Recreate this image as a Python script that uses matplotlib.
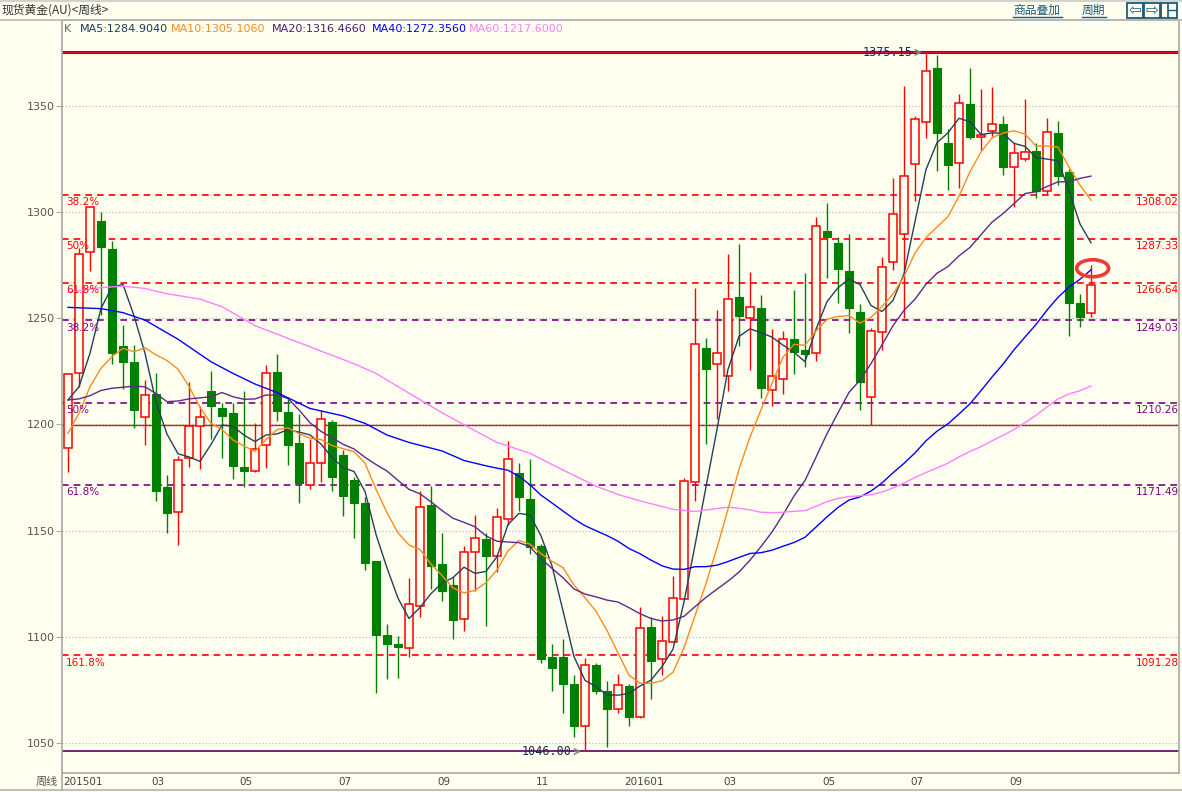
import numpy as np
import pandas as pd
import matplotlib
matplotlib.use("Agg")
import matplotlib.pyplot as plt
from matplotlib.patches import Ellipse, Rectangle
from matplotlib.lines import Line2D

# ---------------- data (weekly spot gold, 2015-01 .. 2016-10) ----------------
opens = [1188.7, 1224.1, 1281.0, 1295.8, 1282.6, 1236.9, 1229.4, 1203.3, 1214.3, 1170.7,
         1158.9, 1184.0, 1199.2, 1215.7, 1207.6, 1205.2, 1179.8, 1178.2, 1190.2, 1224.5,
         1205.8, 1191.1, 1171.3, 1181.7, 1201.1, 1185.4, 1173.8, 1162.9, 1135.7, 1100.8,
         1096.6, 1094.6, 1114.6, 1162.0, 1134.3, 1124.4, 1108.2, 1140.1, 1146.0, 1138.2,
         1155.4, 1177.3, 1164.9, 1142.7, 1090.5, 1090.5, 1077.8, 1058.1, 1086.7, 1074.5,
         1066.1, 1076.8, 1062.3, 1104.5, 1089.7, 1097.7, 1117.6, 1172.8, 1235.8, 1228.5,
         1222.9, 1259.9, 1249.9, 1254.6, 1216.2, 1221.3, 1240.3, 1235.1, 1233.5, 1291.0,
         1285.3, 1272.2, 1252.8, 1213.0, 1243.4, 1276.3, 1289.5, 1322.4, 1342.5, 1367.9,
         1332.3, 1323.2, 1350.8, 1335.4, 1338.3, 1341.3, 1321.2, 1324.8, 1328.7, 1310.0,
         1337.0, 1318.7, 1257.0, 1252.6]
highs = [1224.3, 1282.9, 1303.0, 1300.1, 1286.3, 1246.8, 1237.4, 1220.9, 1224.3, 1176.2,
         1185.0, 1220.1, 1208.7, 1225.1, 1210.2, 1210.2, 1215.7, 1200.5, 1228.0, 1233.1,
         1213.0, 1204.9, 1193.1, 1206.8, 1202.1, 1187.9, 1175.4, 1166.0, 1135.7, 1106.0,
         1100.5, 1127.5, 1168.8, 1171.0, 1148.7, 1128.3, 1142.7, 1157.3, 1148.7, 1160.5,
         1192.2, 1182.0, 1183.6, 1143.5, 1096.6, 1099.0, 1082.0, 1089.9, 1087.5, 1079.3,
         1082.3, 1077.8, 1113.8, 1109.1, 1109.8, 1128.6, 1174.9, 1264.1, 1240.5, 1254.0,
         1280.1, 1284.9, 1271.7, 1260.8, 1244.7, 1243.8, 1263.2, 1271.1, 1297.8, 1304.4,
         1288.1, 1289.6, 1256.7, 1245.2, 1279.0, 1315.8, 1359.3, 1345.2, 1375.15, 1374.0,
         1339.1, 1355.5, 1367.9, 1357.8, 1358.7, 1345.2, 1332.3, 1353.2, 1332.3, 1344.1,
         1343.0, 1320.1, 1261.2, 1275.0]
lows = [1177.7, 1217.7, 1272.4, 1251.5, 1228.3, 1216.5, 1198.2, 1190.3, 1164.1, 1149.0,
        1143.0, 1179.8, 1178.9, 1193.0, 1184.0, 1174.3, 1170.4, 1177.7, 1179.3, 1201.7,
        1180.9, 1162.9, 1169.4, 1173.0, 1168.8, 1156.9, 1146.7, 1131.5, 1073.7, 1080.1,
        1080.7, 1090.3, 1109.5, 1122.4, 1116.9, 1098.8, 1102.9, 1121.6, 1105.2, 1130.7,
        1152.6, 1159.2, 1139.0, 1087.5, 1074.6, 1064.3, 1053.0, 1046.0, 1073.0, 1048.0,
        1064.3, 1058.1, 1061.6, 1070.7, 1082.0, 1097.7, 1117.6, 1163.9, 1190.8, 1202.4,
        1215.9, 1236.9, 1225.7, 1212.4, 1208.6, 1214.2, 1223.8, 1226.9, 1230.0, 1268.8,
        1257.0, 1243.2, 1206.8, 1199.5, 1235.0, 1272.7, 1249.9, 1305.3, 1334.7, 1319.4,
        1310.3, 1311.4, 1334.4, 1329.2, 1335.8, 1317.4, 1302.5, 1324.2, 1306.4, 1308.5,
        1312.7, 1241.6, 1245.7, 1250.7]
closes = [1223.6, 1280.2, 1302.2, 1283.7, 1233.7, 1229.5, 1206.8, 1213.7, 1168.8, 1158.4,
          1183.2, 1199.2, 1203.3, 1208.7, 1204.0, 1180.4, 1178.2, 1188.3, 1224.1, 1206.5,
          1190.5, 1172.5, 1181.7, 1202.4, 1175.4, 1166.4, 1163.1, 1134.9, 1101.0, 1096.7,
          1095.1, 1115.3, 1161.0, 1133.5, 1121.6, 1107.9, 1139.8, 1146.4, 1138.2, 1156.3,
          1183.6, 1166.0, 1142.4, 1089.5, 1085.5, 1077.8, 1058.1, 1086.6, 1074.6, 1066.1,
          1077.1, 1062.1, 1104.2, 1088.5, 1097.9, 1118.1, 1173.3, 1237.7, 1226.0, 1233.4,
          1259.2, 1250.8, 1255.4, 1217.1, 1222.9, 1240.3, 1234.2, 1233.0, 1293.4, 1288.1,
          1273.0, 1254.6, 1220.1, 1244.1, 1274.0, 1299.0, 1316.9, 1343.6, 1366.4, 1337.3,
          1322.1, 1351.2, 1335.4, 1336.2, 1341.3, 1321.0, 1327.6, 1328.4, 1310.0, 1337.5,
          1316.9, 1257.0, 1250.4, 1265.5]

# moving averages at the left edge (windows reach back into 2014)
ma5_head = [1211.5, 1217.7, 1233.5, 1254.6]
ma10_head = [1195.8, 1205.2, 1217.7, 1226.4, 1231.9, 1235.8, 1234.2, 1236.1, 1232.7]
ma20_head = [1211.5, 1212.0, 1213.5, 1216.0, 1217.0, 1217.5, 1218.0, 1217.7, 1214.5, 1210.7,
             1211.0, 1212.0, 1212.5, 1213.0, 1215.0, 1213.0, 1211.8, 1212.0, 1213.8]
ma40_head_idx = [0, 3, 5, 7, 10, 13, 15, 17, 19, 22, 25, 27, 29, 31, 34, 36, 38]
ma40_head_val = [1255.1, 1254.5, 1252.6, 1249.1, 1240.1, 1229.5, 1224.0, 1219.0, 1215.0, 1207.5,
                 1204.0, 1200.5, 1195.0, 1191.5, 1187.5, 1183.0, 1180.5]
ma60_head_idx = [0, 3, 5, 7, 9, 12, 14, 17, 20, 23, 26, 28, 31, 34, 37, 39, 42, 45, 48, 50,
                 52, 55, 57]
ma60_head_val = [1262.2, 1264.4, 1265.1, 1264.0, 1261.5, 1259.0, 1255.4, 1246.5, 1240.5, 1234.5,
                 1228.6, 1224.0, 1214.7, 1205.5, 1197.0, 1191.5, 1186.4, 1178.5, 1170.9, 1167.0,
                 1164.0, 1160.0, 1159.0]

legend_items = ["MA5:1284.9040", "MA10:1305.1060", "MA20:1316.4660", "MA40:1272.3560", "MA60:1217.6000"]
ma_windows = [5, 10, 20, 40, 60]
ma_colors = ["#24405A", "#FF8A1C", "#5B2A88", "#0000FF", "#FF80FF"]
legend_colors = ["#1E3A56", "#FF8A1C", "#4B1A7A", "#0000FF", "#FF80FF"]

y_ticks = [1050, 1100, 1150, 1200, 1250, 1300, 1350]
month_labels = ["201501", "03", "05", "07", "09", "11", "201601", "03", "05", "07", "09"]
month_label_idx = [0, 8, 16, 25, 34, 43, 51, 60, 69, 77, 86]

red_fib_levels = [1308.02, 1287.33, 1266.64, 1091.28]
red_fib_pcts = ["38.2%", "50%", "61.8%", "161.8%"]
red_fib_base = 1199.51
purple_fib_levels = [1249.03, 1210.26, 1171.49]
purple_fib_pcts = ["38.2%", "50%", "61.8%"]

# ---------------- figure ----------------
W, H = 1182, 792
BG = "#FFFFF0"
fig = plt.figure(figsize=(W / 100, H / 100), dpi=100, facecolor=BG)

def fx(px):
    return px / W

def fy(py):
    return 1 - py / H

AX_L, AX_R, AX_T, AX_B = 62, 1179, 20, 773
ax = fig.add_axes([fx(AX_L), fy(AX_B), fx(AX_R) - fx(AX_L), fy(AX_T) - fy(AX_B)])
ax.set_facecolor(BG)

n = len(closes)
x = np.arange(n)
# pixel scale: candle i at x = 68 + 11 i ; price p at y = (1399.8 - p)/0.4708
x_left = (AX_L - 68) / 11.0
x_right = (AX_R - 68) / 11.0
ax.set_xlim(x_left, x_right)
ax.set_ylim(1399.8 - 0.4708 * AX_B, 1399.8 - 0.4708 * AX_T)

for s in ax.spines.values():
    s.set_color("#A8A8A8")
    s.set_linewidth(1.2)

ax.set_yticks(y_ticks)
ax.set_yticklabels([str(v) for v in y_ticks], fontsize=8, color="#555555")
ax.tick_params(axis="y", length=4, color="#A8A8A8", pad=1)
ax.set_xticks([])
ax.grid(False)
for v in y_ticks:
    ax.axhline(v, color="#B4B4B4", lw=0.8, ls=(0, (1, 2)), zorder=0.5)

# fib lines
for lv, pc in zip(red_fib_levels, red_fib_pcts):
    ax.axhline(lv, color="#FF0000", lw=1.2, ls=(0, (4, 3)), zorder=1)
    ax.text(x_left + 0.35, lv - 1.2, pc, color="#FF0000", fontsize=7.5, va="top", ha="left", zorder=5)
    ax.text(x_right - 0.05, lv - 1.2, f"{lv:.2f}", color="#FF0000", fontsize=7.5, va="top", ha="right", zorder=5)
for lv, pc in zip(purple_fib_levels, purple_fib_pcts):
    ax.axhline(lv, color="#800080", lw=1.2, ls=(0, (4, 3)), zorder=1)
    ax.text(x_left + 0.35, lv - 1.2, pc, color="#800080", fontsize=7.5, va="top", ha="left", zorder=5)
    ax.text(x_right - 0.05, lv - 1.2, f"{lv:.2f}", color="#800080", fontsize=7.5, va="top", ha="right", zorder=5)
ax.axhline(red_fib_base, color="#B82828", lw=1.0, zorder=1)

hmax = max(highs)
imax = highs.index(hmax)
lmin = min(lows)
imin = lows.index(lmin)
ax.axhline(hmax, color="#800050", lw=2.2, zorder=1.2)
ax.axhline(hmax + 0.3, color="#E0103A", lw=0.9, zorder=1.3)
ax.axhline(lmin, color="#5A005A", lw=1.2, zorder=1.2)

# candles
o = np.array(opens); c = np.array(closes); h = np.array(highs); l = np.array(lows)
up = c >= o
wick_col = np.where(up, "#FF0000", "#008000")
ax.vlines(x, l, h, colors=wick_col, lw=1.0, zorder=2)
body_h = np.maximum(np.abs(c - o), 0.6)
body_b = np.minimum(o, c)
ax.bar(x[up], body_h[up], bottom=body_b[up], width=0.72, facecolor=BG,
       edgecolor="#FF0000", linewidth=1.1, zorder=3)
ax.bar(x[~up], body_h[~up], bottom=body_b[~up], width=0.72, facecolor="#008000",
       edgecolor="#008000", linewidth=0.8, zorder=3)

# moving averages
cs = pd.Series(closes)
heads = {5: (list(range(len(ma5_head))), ma5_head),
         10: (list(range(len(ma10_head))), ma10_head),
         20: (list(range(len(ma20_head))), ma20_head),
         40: (ma40_head_idx, ma40_head_val),
         60: (ma60_head_idx, ma60_head_val)}
for w, col in zip(ma_windows, ma_colors):
    roll = cs.rolling(w).mean()
    hi, hv = heads[w]
    xs = list(hi) + list(range(w - 1, n))
    ys = list(hv) + list(roll.iloc[w - 1:].values)
    ax.plot(xs, ys, color=col, lw=1.0, zorder=4)

# high / low annotations
mono = "DejaVu Sans Mono"
ax.annotate("", xy=(imax - 0.1, hmax), xytext=(imax - 1.2, hmax),
            arrowprops=dict(arrowstyle="->", color="#808080", lw=1), zorder=6)
ax.text(imax - 1.25, hmax, f"{hmax:.2f}", ha="right", va="center", fontsize=8.5,
        color="#1A2A50", family=mono, zorder=6)
ax.annotate("", xy=(imin - 0.1, lmin), xytext=(imin - 1.2, lmin),
            arrowprops=dict(arrowstyle="->", color="#808080", lw=1), zorder=6)
ax.text(imin - 1.25, lmin, f"{lmin:.2f}", ha="right", va="center", fontsize=8.5,
        color="#1A2A50", family=mono, zorder=6)

# red ring at the last candle
ax.add_patch(Ellipse((n - 1 + 0.15, highs[-1] - 1.5), 2.9, 8.0, fill=False,
                     edgecolor="#F03838", lw=2.6, zorder=7))

# ---------------- frame texts ----------------
cjk = ["Noto Sans CJK SC", "DejaVu Sans"]
fig.add_artist(Line2D([0, 1], [fy(20), fy(20)], color="#B8B8B8", lw=1.2))
fig.add_artist(Line2D([0, 1], [fy(1), fy(1)], color="#C8C8C8", lw=1.2))
fig.text(fx(2), fy(10), "现货黄金(AU)<周线>", family=cjk, fontsize=8.5, color="#333333",
         va="center", ha="left")
fig.text(fx(1013), fy(10), "商品叠加", family=cjk, fontsize=8.5, color="#1A5A7A",
         va="center", ha="left")
fig.text(fx(1082), fy(10), "周期", family=cjk, fontsize=8.5, color="#1A5A7A",
         va="center", ha="left")
fig.add_artist(Line2D([fx(1013), fx(1062)], [fy(17), fy(17)], color="#1A5A7A", lw=1))
fig.add_artist(Line2D([fx(1082), fx(1106)], [fy(17), fy(17)], color="#1A5A7A", lw=1))
for bx, sym in zip([1127, 1144, 1161], ["⇦", "⇨", ""]):
    fig.add_artist(Rectangle((fx(bx), fy(18)), 16 / W, 15 / H, fill=False,
                             edgecolor="#1A5A7A", lw=1.3))
    if sym:
        fig.text(fx(bx + 8), fy(10.5), sym, fontsize=11, color="#1A5A7A",
                 ha="center", va="center", family=["DejaVu Sans"])
fig.add_artist(Line2D([fx(1168), fx(1168)], [fy(4), fy(17)], color="#1A5A7A", lw=1.2))
fig.add_artist(Line2D([fx(1168), fx(1176)], [fy(10), fy(10)], color="#1A5A7A", lw=1))

# legend row
fig.text(fx(64), fy(29), "K", fontsize=8, color="#5A6A6A", va="center", ha="left")
leg_x = [80, 171, 272, 372, 469]
for lx, txt, col in zip(leg_x, legend_items, legend_colors):
    fig.text(fx(lx), fy(29), txt, fontsize=8, color=col, va="center", ha="left")

# bottom strip
fig.add_artist(Line2D([0, 1], [fy(790), fy(790)], color="#C0C0C0", lw=1.5))
fig.add_artist(Line2D([fx(62), fx(62)], [fy(773), fy(790)], color="#A8A8A8", lw=1.2))
fig.text(fx(58), fy(782), "周线", family=cjk, fontsize=8, color="#555555", va="center", ha="right")
for idx, lab in zip(month_label_idx, month_labels):
    px = 68 + 11 * (idx - 0.45)
    fig.text(fx(px), fy(782), lab, fontsize=7.5, color="#444444", va="center", ha="left")

fig.savefig("out.png", dpi=100, facecolor=BG)
